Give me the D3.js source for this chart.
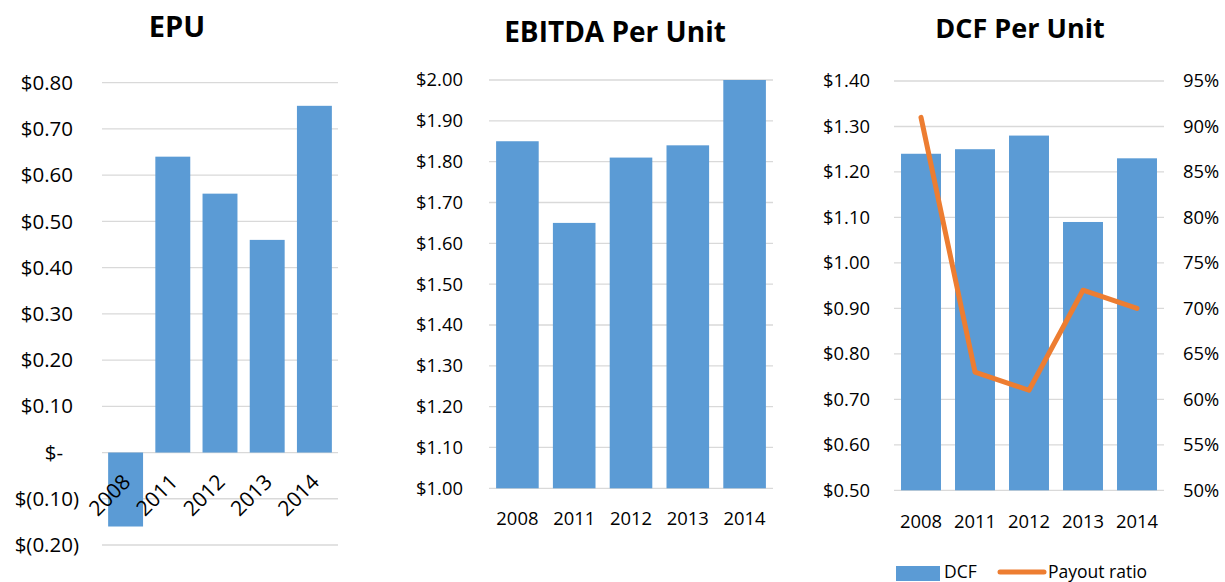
<!DOCTYPE html>
<html><head><meta charset="utf-8">
<script src="https://cdn.jsdelivr.net/npm/d3@7"></script>
<style>
body{margin:0;background:#fff;}
svg{display:block;font-family:"Open Sans",sans-serif;}
</style></head>
<body><svg id="c" width="1225" height="582"></svg>
<script>
const years = ["2008","2011","2012","2013","2014"];
const epu = [-0.16, 0.64, 0.56, 0.46, 0.75];
const ebitda = [1.85, 1.65, 1.81, 1.84, 2.00];
const dcf = [1.24, 1.25, 1.28, 1.09, 1.23];
const payout = [0.91, 0.63, 0.61, 0.72, 0.70];
const epuTicks = [-0.2,-0.1,0,0.1,0.2,0.3,0.4,0.5,0.6,0.7,0.8];
const ebitdaTicks = [1.0,1.1,1.2,1.3,1.4,1.5,1.6,1.7,1.8,1.9,2.0];
const dcfTicks = [0.5,0.6,0.7,0.8,0.9,1.0,1.1,1.2,1.3,1.4];
const payoutTicks = [0.5,0.55,0.6,0.65,0.7,0.75,0.8,0.85,0.9,0.95];
const titles = ["EPU","EBITDA Per Unit","DCF Per Unit"];

const BAR = "#5B9BD5", LINE = "#ED7D31", GRID = "#d9d9d9", TXT = "#000";
const svg = d3.select("#c");

function grid(g, x, y, ticks){
  g.selectAll("line.g").data(ticks).join("line").attr("class","g")
   .attr("x1", x.range()[0]).attr("x2", x.range()[1])
   .attr("y1", d=>y(d)).attr("y2", d=>y(d))
   .attr("stroke", GRID).attr("stroke-width", 1.3);
}
function bars(g, x, y, vals, base){
  g.selectAll("rect.b").data(vals).join("rect").attr("class","b")
   .attr("x",(d,i)=>x(years[i])).attr("width", x.bandwidth())
   .attr("y", d=>Math.min(y(d), y(base))).attr("height", d=>Math.abs(y(d)-y(base)))
   .attr("fill", BAR);
}
function title(txt, cx, by, size){
  svg.append("text").attr("x",cx).attr("y",by).attr("text-anchor","middle")
    .attr("font-weight","bold").attr("font-size",size).attr("fill",TXT).text(txt);
}

// ---------- EPU ----------
{
  const g = svg.append("g");
  const x = d3.scaleBand().domain(years).range([102,338]).paddingInner(0.26).paddingOuter(0.13);
  const y = d3.scaleLinear().domain([-0.2,0.8]).range([545,82.7]);
  grid(g,x,y,epuTicks);
  bars(g,x,y,epu,0);
  const fmt = d => d===0 ? "$-" : d<0 ? "$(" + d3.format(".2f")(-d) + ")" : "$" + d3.format(".2f")(d);
  g.selectAll("text.yl").data(epuTicks).join("text").attr("class","yl")
   .attr("x", d=> d===0 ? 63 : d<0 ? 79 : 73).attr("y", d=>y(d)).attr("dy","0.35em")
   .attr("text-anchor","end").attr("font-size",20.5).attr("fill",TXT).text(fmt);
  g.selectAll("text.xl").data(years).join("text").attr("class","xl")
   .attr("transform", d=>`translate(${x(d)+x.bandwidth()/2+1},478) rotate(-45)`)
   .attr("dy","0.35em").attr("text-anchor","end").attr("font-size",21).attr("fill",TXT).text(d=>d);
  title(titles[0], 177, 37, 29);
}

// ---------- EBITDA ----------
{
  const g = svg.append("g");
  const x = d3.scaleBand().domain(years).range([489,773]).paddingInner(0.25).paddingOuter(0.125);
  const y = d3.scaleLinear().domain([1.0,2.0]).range([488.3,80]);
  grid(g,x,y,ebitdaTicks);
  bars(g,x,y,ebitda,1.0);
  g.selectAll("text.yl").data(ebitdaTicks).join("text").attr("class","yl")
   .attr("x",463).attr("y",d=>y(d)).attr("dy","0.35em").attr("text-anchor","end")
   .attr("font-size",18.4).attr("fill",TXT).text(d=>"$"+d3.format(".2f")(d));
  g.selectAll("text.xl").data(years).join("text").attr("class","xl")
   .attr("x",d=>x(d)+x.bandwidth()/2).attr("y",519).attr("dy","0.35em").attr("text-anchor","middle")
   .attr("font-size",18.4).attr("fill",TXT).text(d=>d);
  title(titles[1], 615, 42, 28);
}

// ---------- DCF ----------
{
  const g = svg.append("g");
  const x = d3.scaleBand().domain(years).range([894,1164]).paddingInner(0.26).paddingOuter(0.13);
  const y = d3.scaleLinear().domain([0.5,1.4]).range([490.3,81]);
  const y2 = d3.scaleLinear().domain([0.5,0.95]).range([490.3,81]);
  grid(g,x,y,dcfTicks);
  bars(g,x,y,dcf,0.5);
  const line = d3.line().x((d,i)=>x(years[i])+x.bandwidth()/2).y(d=>y2(d));
  g.append("path").datum(payout).attr("d",line).attr("fill","none").attr("stroke",LINE)
   .attr("stroke-width",5).attr("stroke-linecap","round").attr("stroke-linejoin","round");
  g.selectAll("text.yl").data(dcfTicks).join("text").attr("class","yl")
   .attr("x",870).attr("y",d=>y(d)).attr("dy","0.35em").attr("text-anchor","end")
   .attr("font-size",18.4).attr("fill",TXT).text(d=>"$"+d3.format(".2f")(d));
  g.selectAll("text.yr").data(payoutTicks).join("text").attr("class","yr")
   .attr("x",1183).attr("y",d=>y2(d)).attr("dy","0.35em").attr("text-anchor","start")
   .attr("font-size",18.4).attr("fill",TXT).text(d=>d3.format(".0%")(d));
  g.selectAll("text.xl").data(years).join("text").attr("class","xl")
   .attr("x",d=>x(d)+x.bandwidth()/2).attr("y",521.5).attr("dy","0.35em").attr("text-anchor","middle")
   .attr("font-size",18.4).attr("fill",TXT).text(d=>d);
  title(titles[2], 1020, 38, 27);
  // legend
  const lg = svg.append("g");
  lg.append("rect").attr("x",896).attr("y",566).attr("width",44).attr("height",15).attr("fill",BAR);
  lg.append("text").attr("x",944).attr("y",578).attr("font-size",17.5).attr("fill",TXT).text("DCF");
  lg.append("line").attr("x1",1000).attr("x2",1044).attr("y1",572).attr("y2",572)
    .attr("stroke",LINE).attr("stroke-width",5).attr("stroke-linecap","round");
  lg.append("text").attr("x",1048).attr("y",578).attr("font-size",17.5).attr("fill",TXT).text("Payout ratio");
}
</script></body></html>
